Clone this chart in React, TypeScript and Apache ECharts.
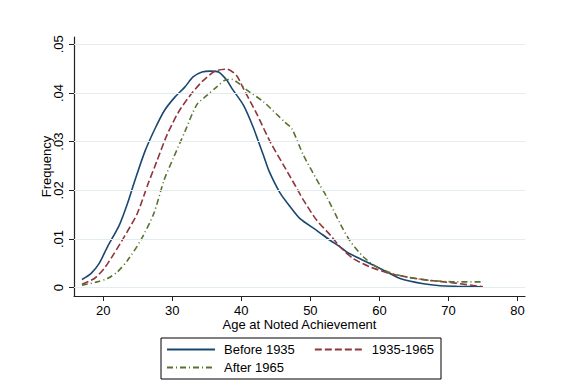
import React, { useEffect, useRef } from "react";
import * as echarts from "echarts";

const xTicks = [20, 30, 40, 50, 60, 70, 80];
const yTicks = [0, 0.01, 0.02, 0.03, 0.04, 0.05];

const seriesNames = ["Before 1935", "1935-1965", "After 1965"];

const beforeX = [16.9, 18.2, 19.4, 20.6, 22.3, 23.5, 24.5, 26.0, 27.5, 28.9, 30.4, 31.8, 33.0, 34.3, 35.5, 36.7, 37.9, 38.6, 40.3, 41.7, 43.2, 44.0, 45.6, 47.1, 48.5, 50.9, 52.9, 54.3, 55.3, 57.7, 60.6, 63.0, 66.4, 68.8, 71.2, 75.0];
const beforeY = [0.0017, 0.0029, 0.005, 0.0084, 0.0128, 0.0173, 0.0217, 0.0279, 0.0327, 0.0365, 0.0392, 0.0412, 0.0433, 0.0443, 0.0445, 0.0443, 0.0426, 0.041, 0.0375, 0.033, 0.0272, 0.024, 0.0195, 0.0166, 0.0142, 0.0118, 0.0097, 0.0084, 0.0073, 0.0056, 0.0036, 0.0019, 0.0008, 0.0004, 0.0003, 0.0002];

const midX = [16.9, 18.7, 20.1, 21.55, 23.0, 24.9, 26.5, 27.7, 29.2, 30.9, 32.8, 34.5, 36.2, 37.9, 39.3, 40.3, 42.2, 44.2, 46.1, 47.8, 49.0, 50.9, 52.9, 54.1, 54.8, 56.2, 58.6, 61.6, 64.4, 67.3, 70.7, 75.0];
const midY = [0.0007, 0.0019, 0.0039, 0.007, 0.0104, 0.0152, 0.0214, 0.0258, 0.0313, 0.0361, 0.0399, 0.0426, 0.0445, 0.0449, 0.0436, 0.0409, 0.0358, 0.0299, 0.0252, 0.021, 0.018, 0.0139, 0.0108, 0.0087, 0.0077, 0.006, 0.0043, 0.0029, 0.0021, 0.0015, 0.001, 0.0002];

const afterX = [16.9, 19.1, 20.6, 22.0, 23.5, 25.4, 27.3, 28.8, 30.1, 31.8, 33.5, 35.0, 36.4, 37.6, 38.6, 39.6, 40.8, 43.2, 46.3, 47.3, 49.0, 51.4, 52.4, 54.3, 55.7, 57.7, 59.6, 62.0, 64.4, 67.3, 71.2, 75.0];
const afterY = [0.0005, 0.0012, 0.0019, 0.0032, 0.0056, 0.0097, 0.0152, 0.0221, 0.0265, 0.032, 0.0375, 0.0395, 0.0412, 0.0426, 0.0428, 0.042, 0.0406, 0.0382, 0.034, 0.0327, 0.0272, 0.021, 0.0186, 0.0132, 0.0097, 0.0063, 0.0043, 0.0029, 0.0021, 0.0015, 0.0012, 0.0012];

const colors = ["#1a476f", "#90353b", "#55752f"];
const FONT = "Liberation Sans, Arial, sans-serif";

const zip = (xs: number[], ys: number[]) => xs.map((x, i) => [x, ys[i]]);

export default function App() {
  const ref = useRef<HTMLDivElement>(null);
  useEffect(() => {
    if (!ref.current) return;
    const chart = echarts.init(ref.current, undefined, { renderer: "svg" });
    const lineSeries = (name: string, data: number[][], color: string, type: any) => ({
      name,
      type: "line",
      data,
      symbol: "none",
      showSymbol: false,
      smooth: 0.25,
      z: 3,
      lineStyle: { color, width: 1.6, type },
      itemStyle: { color },
    });
    const legendCommon = {
      orient: "horizontal",
      itemWidth: 48,
      itemHeight: 14,
      itemStyle: { opacity: 0, borderWidth: 0 },
      textStyle: { color: "#000", fontSize: 13, fontFamily: FONT, padding: [0, 0, 0, 4] },
    };
    chart.setOption({
      animation: false,
      backgroundColor: "#ffffff",
      textStyle: { fontFamily: FONT },
      grid: { left: 74, right: 41, top: 37, bottom: 95, containLabel: false },
      xAxis: {
        type: "value",
        min: 15.75,
        max: 81.1,
        name: "Age at Noted Achievement",
        nameLocation: "middle",
        nameGap: 22,
        nameMoveOverlap: false,
        nameTextStyle: { color: "#000", fontSize: 13, fontFamily: FONT },
        axisLine: { show: true, onZero: false, lineStyle: { color: "#222", width: 1.2 } },
        axisTick: { show: true, length: 5, customValues: xTicks, lineStyle: { color: "#222", width: 1 } },
        axisLabel: { customValues: xTicks, color: "#000", fontSize: 13, margin: 8, fontFamily: FONT },
        splitLine: { show: false },
      },
      yAxis: {
        type: "value",
        min: -0.0017,
        max: 0.0515,
        name: "Frequency",
        nameLocation: "middle",
        nameRotate: 90,
        nameGap: 21,
        nameMoveOverlap: false,
        nameTextStyle: { color: "#000", fontSize: 13, fontFamily: FONT },
        axisLine: { show: true, onZero: false, lineStyle: { color: "#222", width: 1.2 } },
        axisTick: { show: true, length: 5, customValues: yTicks, lineStyle: { color: "#222", width: 1 } },
        axisLabel: {
          customValues: yTicks,
          rotate: 90,
          color: "#000",
          fontSize: 13,
          margin: 9,
          fontFamily: FONT,
          formatter: (v: number) => (Math.abs(v) < 1e-9 ? "0" : v.toFixed(2).replace(/^0/, "")),
        },
        splitLine: { show: false },
      },
      legend: [
        {
          ...legendCommon,
          data: [seriesNames[0], seriesNames[1]],
          left: 161,
          top: 338,
          padding: [5, 7, 23, 5],
          itemGap: 19,
          borderColor: "#000",
          borderWidth: 1,
        },
        {
          ...legendCommon,
          data: [seriesNames[2]],
          left: 166,
          top: 361,
          padding: 0,
        },
      ],
      series: [
        {
          name: "grid",
          type: "line",
          data: [],
          z: 1,
          silent: true,
          markLine: {
            silent: true,
            symbol: "none",
            label: { show: false },
            lineStyle: { color: "#e3ecef", width: 1, type: "solid" },
            data: yTicks.map((v) => ({ yAxis: v })),
          },
        },
        lineSeries(seriesNames[0], zip(beforeX, beforeY), colors[0], "solid"),
        lineSeries(seriesNames[1], zip(midX, midY), colors[1], [7, 3]),
        lineSeries(seriesNames[2], zip(afterX, afterY), colors[2], [6, 3, 1, 3]),
      ],
    });
    return () => chart.dispose();
  }, []);
  return (
    <div
      ref={ref}
      style={{ position: "fixed", left: 0, top: 0, width: 566, height: 391, background: "#fff" }}
    />
  );
}
